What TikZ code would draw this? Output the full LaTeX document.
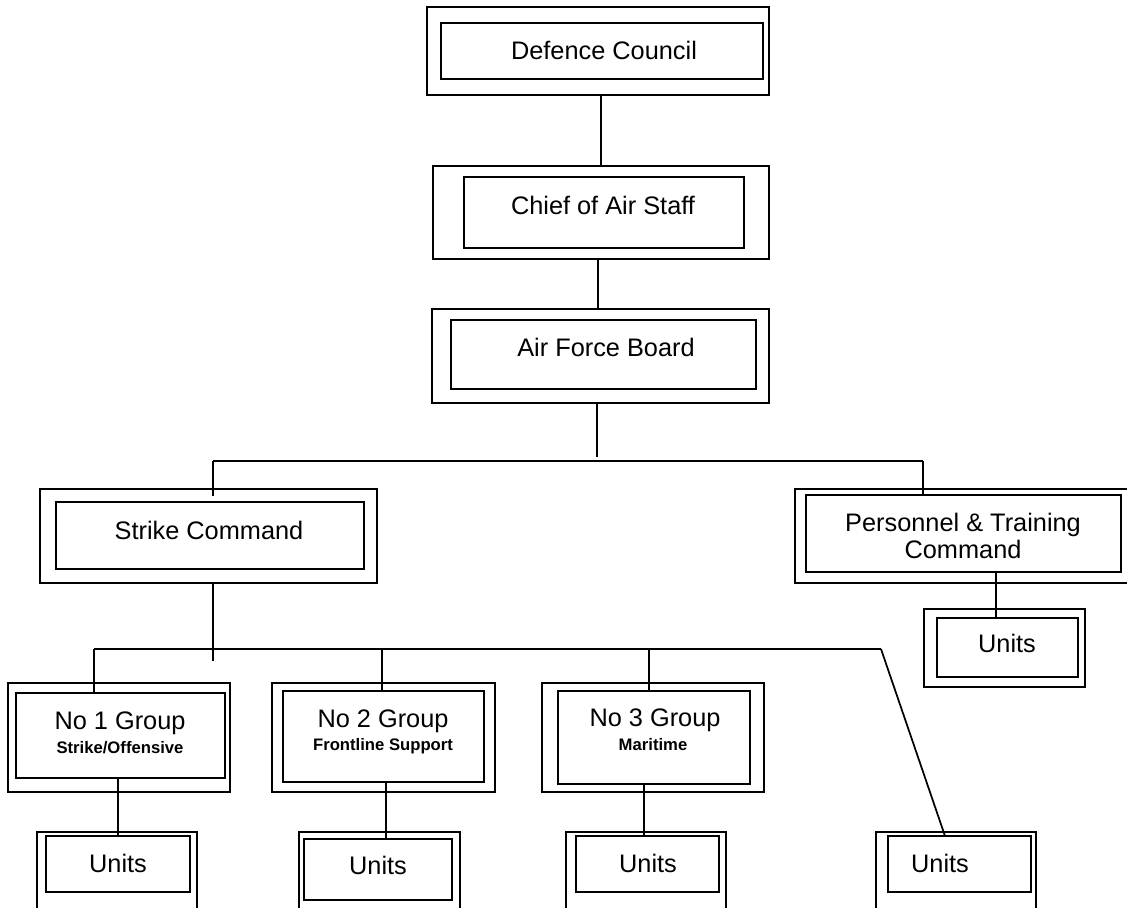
\documentclass[tikz,border=0pt]{standalone}
\usepackage{fontspec}
\setmainfont{Liberation Sans}
\usetikzlibrary{fit}
\newcommand\twobox[9]{%
  \node[outerbox, fit={(#2,#3)(#4,#5)}] (#1O) {};
  \node[innerbox, fit={(#6,#7)(#8,#9)}] (#1I) {};}
\begin{document}
\begin{tikzpicture}[x=0.75pt,y=-0.75pt,
  outerbox/.style={draw, line width=0.9pt, inner sep=0pt},
  innerbox/.style={draw, line width=1.5pt, inner sep=0pt},
  conn/.style={line width=1.3pt},
  bus/.style={line width=1.6pt},
  lbl/.style={font=\fontsize{19}{20.5}\selectfont, align=center, inner sep=0pt},
  sublbl/.style={font=\fontsize{12.5}{14}\selectfont\bfseries, inner sep=0pt, anchor=base}]
\useasboundingbox (0,0) rectangle (1127,907);

% boxes: name, outer (x1,y1,x2,y2), inner (x1,y1,x2,y2)
\twobox{dc}{427}{7}{769}{95}{441}{23}{763}{79}
\twobox{cas}{433}{166}{769}{259}{464}{177}{744}{248}
\twobox{afb}{432}{309}{769}{403}{451}{320}{756}{389}
\twobox{sc}{40}{489}{377}{583}{56}{502}{364}{569}
\twobox{pt}{795}{489}{1135}{583}{806}{495}{1121}{572}
\twobox{up}{924}{609}{1085}{687}{937}{618}{1078}{677}
\twobox{ga}{8}{683}{230}{792}{16}{693}{225}{778}
\twobox{gb}{272}{683}{495}{792}{283}{691}{484}{782}
\twobox{gc}{542}{683}{764}{792}{558}{691}{750}{784}
\twobox{ua}{37}{832}{197}{918}{46}{836}{190}{892}
\twobox{ub}{299}{832}{460}{918}{304}{839}{452}{900}
\twobox{uc}{566}{832}{726}{918}{576}{836}{719}{892}
\twobox{ud}{876}{832}{1036}{918}{888}{836}{1031}{892}

% labels
\node[lbl, anchor=base] (dcT) at (604,59) {Defence Council};
\node[lbl, anchor=base] (casT) at (603,214) {Chief of Air Staff};
\node[lbl, anchor=base] (afbT) at (606,356) {Air Force Board};
\node[lbl, anchor=base] (scT) at (209,539) {Strike Command};
\node[lbl] (ptT) at (963,536) {Personnel \& Training\\Command};
\node[lbl, anchor=base] (upT) at (1007,652) {Units};
\node[lbl, anchor=base] (gaT) at (120,729) {No 1 Group};
\node[sublbl] (gaS) at (120,753) {Strike/Offensive};
\node[lbl, anchor=base] (gbT) at (383,727) {No 2 Group};
\node[sublbl] (gbS) at (383,750) {Frontline Support};
\node[lbl, anchor=base] (gcT) at (655,726) {No 3 Group};
\node[sublbl] (gcS) at (653,750) {Maritime};
\node[lbl, anchor=base] (uaT) at (118,872) {Units};
\node[lbl, anchor=base] (ubT) at (378,874) {Units};
\node[lbl, anchor=base] (ucT) at (648,872) {Units};
\node[lbl, anchor=base] (udT) at (940,872) {Units};

% junction coordinates
\coordinate (x601) at (601,0);
\coordinate (x598) at (598,0);
\coordinate (afbEnd) at (597,457);
\coordinate (busL) at (213,461);
\coordinate (busR) at (923,461);
\coordinate (scEnd) at (213,496);
\coordinate (ptEnd) at (923,494);
\coordinate (scDown) at (213,661);
\coordinate (bus2L) at (94,649);
\coordinate (bus2R) at (881,649);
\coordinate (gbX) at (382,649);
\coordinate (gcX) at (649,649);
\coordinate (xa) at (118,0);
\coordinate (xb) at (386,0);
\coordinate (xc) at (644,0);
\coordinate (xp) at (996,0);
\coordinate (udTop) at (945,836);

% connectors
\draw[conn] (dcO.south -| x601) -- (casO.north -| x601);
\draw[conn] (casO.south -| x598) -- (afbO.north -| x598);
\draw[conn] (afbO.south -| afbEnd) -- (afbEnd);
\draw[bus] (busL) -- (busR);
\draw[conn] (busL) -- (scEnd);
\draw[conn] (busR) -- (ptEnd);
\draw[conn] (scO.south -| scDown) -- (scDown);
\draw[bus] (bus2L) -- (bus2R);
\draw[conn] (bus2L) -- (gaI.north -| bus2L);
\draw[conn] (gbX) -- (gbI.north -| gbX);
\draw[conn] (gcX) -- (gcI.north -| gcX);
\draw[conn] (bus2R) -- (udTop);
\draw[conn] (gaI.south -| xa) -- (uaI.north -| xa);
\draw[conn] (gbI.south -| xb) -- (ubI.north -| xb);
\draw[conn] (gcI.south -| xc) -- (ucI.north -| xc);
\draw[conn] (ptI.south -| xp) -- (upI.north -| xp);
\end{tikzpicture}
\end{document}
